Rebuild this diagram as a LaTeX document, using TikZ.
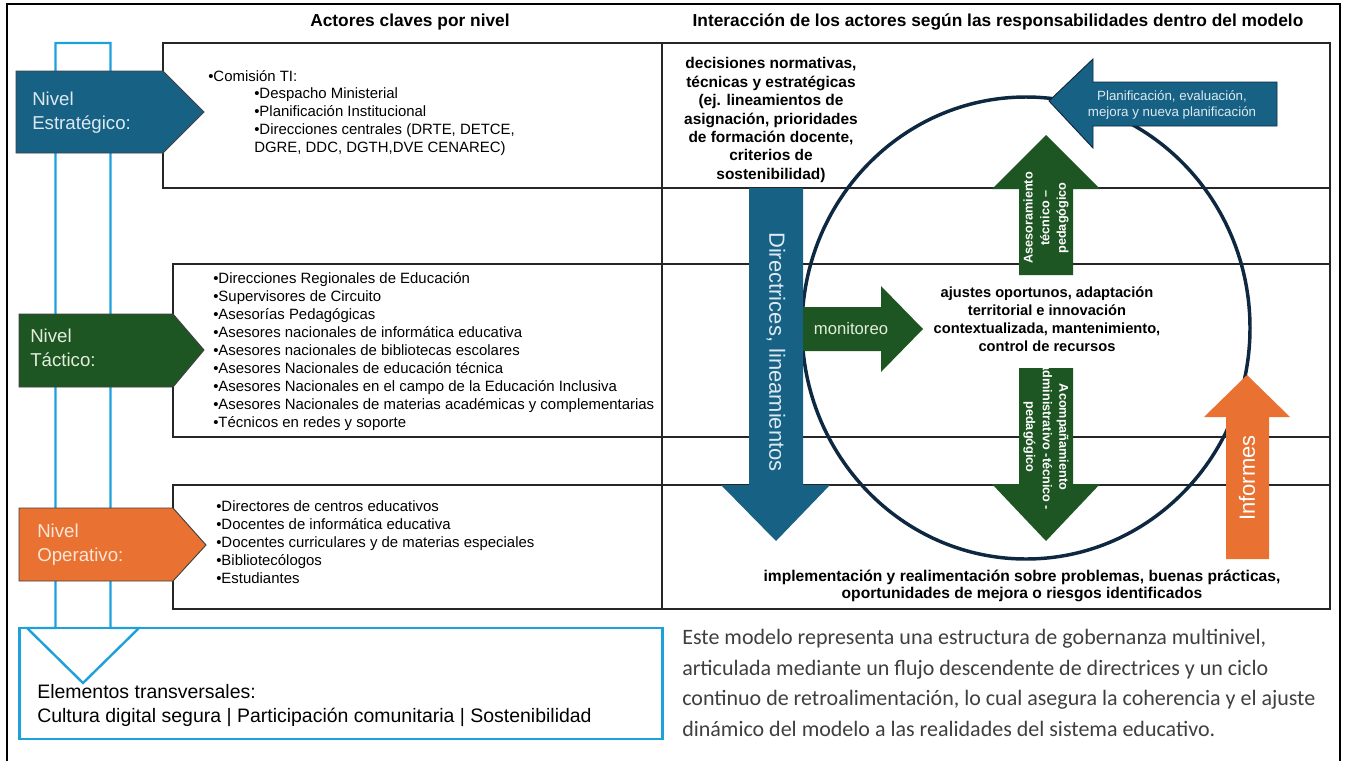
\documentclass[tikz,border=0pt]{standalone}
\usepackage{fontspec}
\setmainfont{Liberation Sans}
\newfontfamily\calib{Carlito}
\definecolor{cblue}{HTML}{176185}
\definecolor{cgreen}{HTML}{1E5623}
\definecolor{corange}{HTML}{E97132}
\definecolor{clight}{HTML}{1DA1DB}
\definecolor{cnavy}{HTML}{0E2841}
\definecolor{cpara}{HTML}{3F3F3F}
\definecolor{tblue}{HTML}{DCE9F1}
\definecolor{tgreen}{HTML}{E3EDDC}
\definecolor{torange}{HTML}{FCE6D8}
\begin{document}
\begin{tikzpicture}[x=0.75pt,y=-0.75pt,
  outer/.style={line width=1.5pt,black},
  tbl/.style={draw=black!85,line width=1pt},
  lvlshape/.style={draw=black!75,line width=0.7pt},
  lvltxt/.style={anchor=west,align=left,inner sep=0,font=\fontsize{14}{18}\selectfont},
  itemtxt/.style={anchor=west,align=left,inner sep=0,font=\fontsize{11.2}{13.5}\selectfont},
  boldtxt/.style={align=center,inner sep=0,font=\bfseries\fontsize{11.6}{13.8}\selectfont},
  titletxt/.style={inner sep=0,font=\bfseries\fontsize{13}{15}\selectfont},
  vtxt/.style={inner sep=0,align=center}]
\useasboundingbox (0,0) rectangle (1345,761);
\fill[white] (0,0) rectangle (1345,761);
% outer frame
\draw[outer] (7,761) -- (7,4) -- (1340,4) -- (1340,761);
% titles
\node[titletxt] (t1) at (410,22) {Actores claves por nivel};
\node[titletxt] (t2) at (998,22) {Interacción de los actores según las responsabilidades dentro del modelo};
% light blue outline arrow (behind)
\draw[clight,line width=1.8pt,line join=miter] (55.5,43) -- (110.5,43) -- (110.5,628) -- (139,628) -- (83,683) -- (27,628) -- (55.5,628) -- cycle;
% transversal box
\draw[clight,line width=1.6pt] (19.5,628) rectangle (662.5,739);
\node[lvltxt,font=\fontsize{14.6}{18}\selectfont] (elem) at (37,705) {Elementos transversales:\\Cultura digital segura | Participación comunitaria | Sostenibilidad};
% table left boxes
\draw[tbl] (163,43) rectangle (662,188);
\draw[tbl] (173,264) rectangle (662,437);
\draw[tbl] (173,485) rectangle (662,609);
% right column
\draw[tbl] (662,43) -- (1330,43) -- (1330,609) -- (662,609) -- cycle;
\draw[tbl] (662,188) -- (1330,188);
\draw[tbl] (662,264) -- (1330,264);
\draw[tbl] (662,437) -- (1330,437);
\draw[tbl] (662,485) -- (1330,485);
% level pentagons
\draw[lvlshape,fill=cblue] (16,71) -- (163,71) -- (204,112) -- (163,153) -- (16,153) -- cycle;
\node[lvltxt,text=tblue] (lv1) at (32,113) {Nivel\\Estratégico:};
\draw[lvlshape,fill=cgreen] (19,314) -- (173,314) -- (204,350) -- (173,387) -- (19,387) -- cycle;
\node[lvltxt,text=tgreen] (lv2) at (30,348) {Nivel\\Táctico:};
\draw[lvlshape,fill=corange] (19,508) -- (173,508) -- (206,545) -- (173,581) -- (19,581) -- cycle;
\node[lvltxt,text=torange] (lv3) at (37,545) {Nivel\\Operativo:};
% lists
\node[itemtxt] (s0) at (208,76) {•Comisión TI:};
\node[itemtxt] (s1) at (254,122) {•Despacho Ministerial\\•Planificación Institucional\\•Direcciones centrales (DRTE, DETCE,\\DGRE, DDC, DGTH,DVE CENAREC)};
\node[itemtxt] (tl) at (213,352) {•Direcciones Regionales de Educación\\•Supervisores de Circuito\\•Asesorías Pedagógicas\\•Asesores nacionales de informática educativa\\•Asesores nacionales de bibliotecas escolares\\•Asesores Nacionales de educación técnica\\•Asesores Nacionales en el campo de la Educación Inclusiva\\•Asesores Nacionales de materias académicas y complementarias\\•Técnicos en redes y soporte};
\node[itemtxt] (ol) at (216,542) {•Directores de centros educativos\\•Docentes de informática educativa\\•Docentes curriculares y de materias especiales\\•Bibliotecólogos\\•Estudiantes};
% right column texts
\node[boldtxt] (dec) at (771,120) {decisiones normativas,\\técnicas y estratégicas\\(ej. lineamientos de\\asignación, prioridades\\de formación docente,\\criterios de\\sostenibilidad)};
% circle
\draw[cnavy,line width=2.6pt] (1026,328) ellipse [x radius=224,y radius=231];
% blue down arrow
\fill[cblue] (749,188) -- (803,188) -- (803,485) -- (830,485) -- (776,541) -- (721,485) -- (749,485) -- cycle;
\node[vtxt,rotate=-90,text=tblue,font=\fontsize{16.5}{19}\selectfont] (dir) at (776,352) {Directrices, lineamientos};
% monitoreo arrow
\fill[cgreen] (803,307) -- (881,307) -- (881,286) -- (923,329) -- (881,372) -- (881,351) -- (803,351) -- cycle;
\node[vtxt,text=tgreen,font=\fontsize{12.5}{15}\selectfont] (mon) at (851,329) {monitoreo};
% green up arrow
\fill[cgreen] (1019,275) -- (1019,189) -- (992,189) -- (1046,135) -- (1100,189) -- (1073,189) -- (1073,275) -- cycle;
\node[vtxt,rotate=90,text=white,font=\bfseries\fontsize{9.5}{12.4}\selectfont] (ase) at (1046,218) {Asesoramiento\\técnico –\\pedagógico};
% green down arrow
\fill[cgreen] (1019,368) -- (1073,368) -- (1073,484) -- (1100,484) -- (1046,541) -- (992,484) -- (1019,484) -- cycle;
\node[vtxt,rotate=-90,text=white,font=\bfseries\fontsize{9.5}{12.4}\selectfont] (aco) at (1046,437) {Acompañamiento\\administrativo -técnico -\\pedagógico};
% orange up arrow
\fill[corange] (1226,559) -- (1226,417) -- (1204,417) -- (1247,375) -- (1290,417) -- (1269,417) -- (1269,559) -- cycle;
\node[vtxt,rotate=90,text=white,font=\fontsize{16.5}{19}\selectfont] (inf) at (1247,478) {Informes};
% blue left arrow
\draw[draw=cnavy,line width=0.7pt,fill=cblue] (1277,82) -- (1093,82) -- (1093,59) -- (1049,101) -- (1093,148) -- (1093,126) -- (1277,126) -- cycle;
\node[vtxt,text=tblue,font=\fontsize{10}{12}\selectfont] (pla) at (1172,105) {Planificación, evaluación,\\mejora y nueva planificación};
% central text
\node[boldtxt,font=\bfseries\fontsize{11}{13.5}\selectfont] (aju) at (1047,319) {ajustes oportunos, adaptación\\territorial e innovación\\contextualizada, mantenimiento,\\control de recursos};
% bottom text
\node[boldtxt,font=\bfseries\fontsize{11.7}{12.8}\selectfont] (imp) at (1022,586) {implementación y realimentación sobre problemas, buenas prácticas,\\oportunidades de mejora o riesgos identificados};
% paragraph
\node[anchor=west,align=left,inner sep=0,text=cpara,font=\calib\fontsize{16.5}{23}\selectfont] (par) at (682,683) {Este modelo representa una estructura de gobernanza multinivel,\\articulada mediante un flujo descendente de directrices y un ciclo\\continuo de retroalimentación, lo cual asegura la coherencia y el ajuste\\dinámico del modelo a las realidades del sistema educativo.};
\end{tikzpicture}
\end{document}
